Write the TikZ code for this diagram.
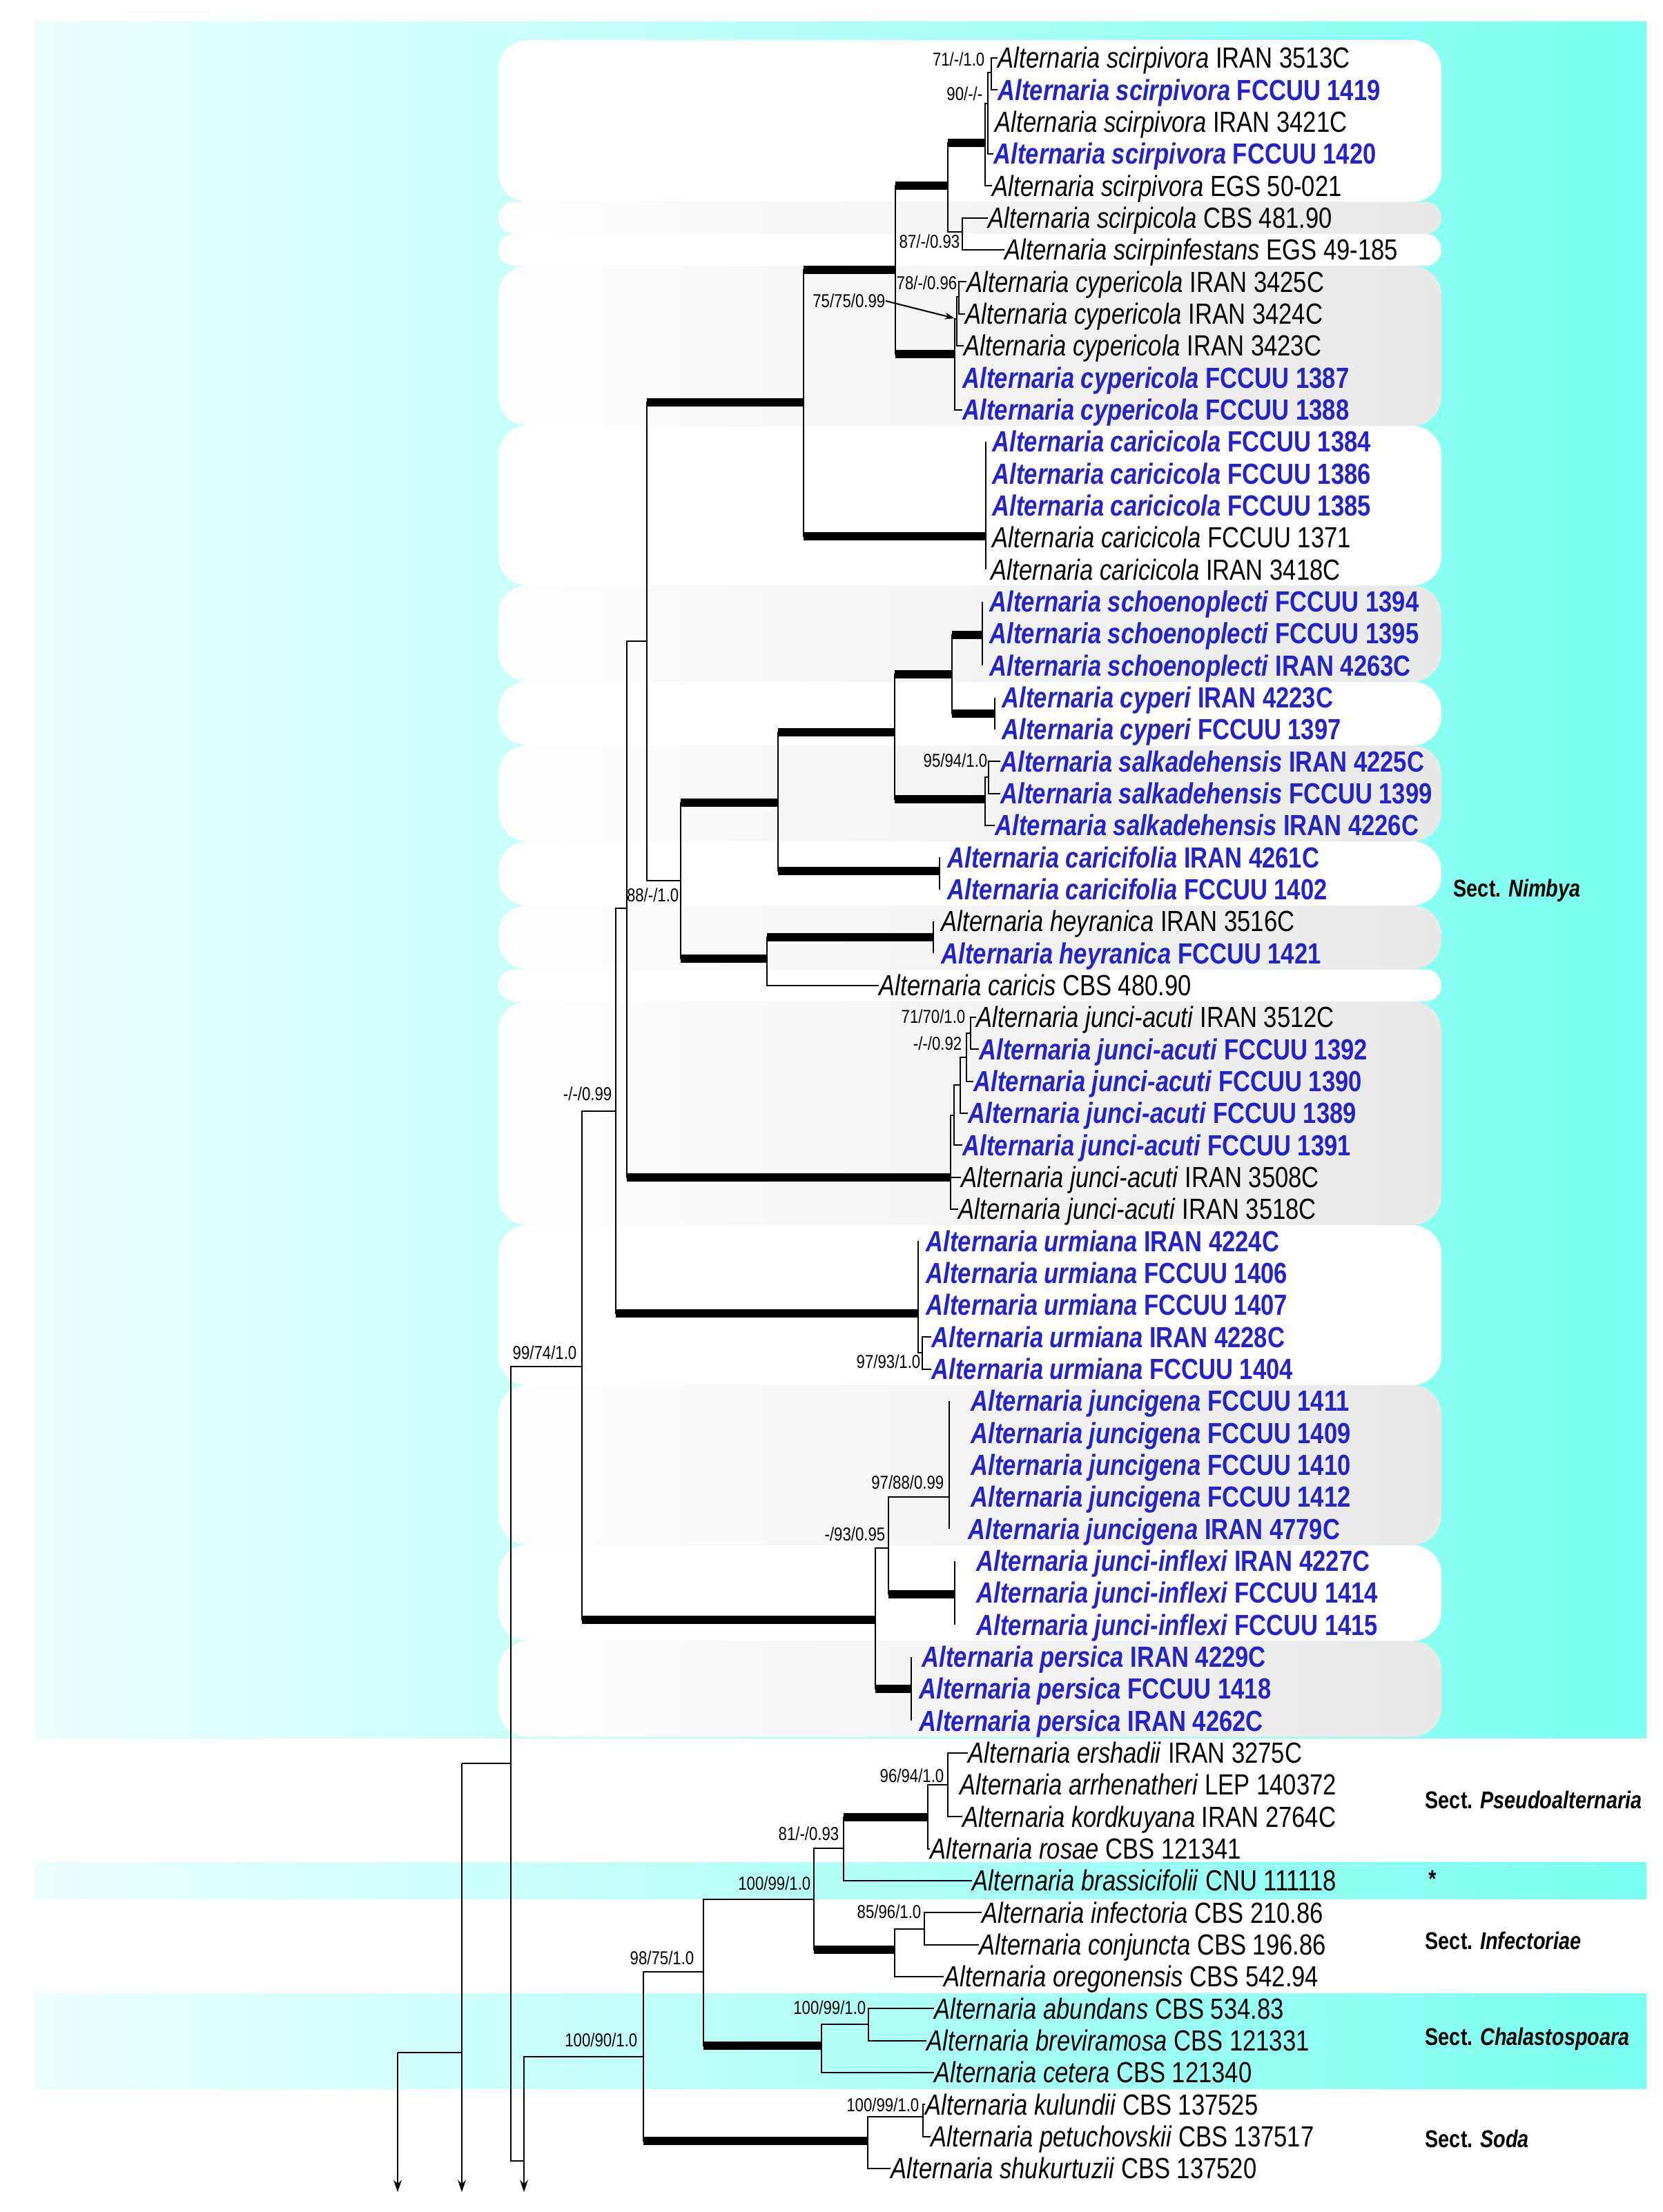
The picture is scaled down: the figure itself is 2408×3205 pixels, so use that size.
\documentclass[tikz,border=0pt]{standalone}
\usepackage{fontspec}
\setmainfont{Liberation Sans}[FakeStretch=0.82]
\usepackage{tikz}
\usetikzlibrary{arrows.meta}
\definecolor{altblue}{RGB}{35,35,200}
\definecolor{bgcyan}{RGB}{122,255,240}
\definecolor{bgpale}{RGB}{236,255,253}
\newcommand{\nm}[1]{\textit{Alternaria #1}}

\begin{document}
\begin{tikzpicture}[x=0.01cm,y=-0.01cm,
  tx/.style={anchor=west,inner sep=0pt,text height=9pt,text depth=0.5pt,font=\fontsize{12}{14}\selectfont},
  txb/.style={tx,text=altblue,font=\fontsize{12}{14}\selectfont\bfseries},
  sup/.style={anchor=east,inner sep=0pt,font=\fontsize{7.7}{9}\selectfont},
  sect/.style={anchor=west,inner sep=0pt,font=\fontsize{10}{12}\selectfont\bfseries},
  br/.style={line width=0.6pt},
  thk/.style={line width=3.2pt},
  arr/.style={-{Stealth[length=5pt,width=3.4pt]}}]
\useasboundingbox (0,0) rectangle (2408,3205);
% background bands
\shade[left color=bgpale,right color=bgcyan] (50,31) rectangle (2385,2518);
\shade[left color=bgpale,right color=bgcyan] (50,2698) rectangle (2385,2751);
\shade[left color=bgpale,right color=bgcyan] (50,2888) rectangle (2385,3026);
% clade boxes
\foreach \ya/\yb/\r in {58/292.5/12, 338.8/385.2/6.5, 617/848.5/12, 987.5/1080/12,
    1219/1312/12, 1404.5/1451/6.5, 1775/2007/12, 2238.5/2377.5/12}
  \fill[white,rounded corners=\r pt] (722,\ya) rectangle (2088,\yb);
\foreach \ya/\yb/\r in {292.5/338.8/6.5, 385.2/617/12, 848.5/987.5/12, 1080/1219/12,
    1312/1404.5/12, 1451/1775/12, 2007/2238.5/12, 2377.5/2516.5/12}
  \shade[left color=white,right color=gray!18,rounded corners=\r pt] (722,\ya) rectangle (2088,\yb);

% taxa
\node[tx]  (t1)  at (1445,84)     {\nm{scirpivora} IRAN 3513C};
\node[txb] (t2)  at (1445,130.3)  {\nm{scirpivora} FCCUU 1419};
\node[tx]  (t3)  at (1441,176.7)  {\nm{scirpivora} IRAN 3421C};
\node[txb] (t4)  at (1439,223)    {\nm{scirpivora} FCCUU 1420};
\node[tx]  (t5)  at (1437,269.3)  {\nm{scirpivora} EGS 50-021};
\node[tx]  (t6)  at (1431,315.7)  {\nm{scirpicola} CBS 481.90};
\node[tx]  (t7)  at (1455,362)    {\nm{scirpinfestans} EGS 49-185};
\node[tx]  (t8)  at (1400,408.3)  {\nm{cypericola} IRAN 3425C};
\node[tx]  (t9)  at (1398,454.6)  {\nm{cypericola} IRAN 3424C};
\node[tx]  (t10) at (1396,501)    {\nm{cypericola} IRAN 3423C};
\node[txb] (t11) at (1394,547.3)  {\nm{cypericola} FCCUU 1387};
\node[txb] (t12) at (1394,593.6)  {\nm{cypericola} FCCUU 1388};
\node[txb] (t13) at (1437,640)    {\nm{caricicola} FCCUU 1384};
\node[txb] (t14) at (1437,686.3)  {\nm{caricicola} FCCUU 1386};
\node[txb] (t15) at (1437,732.6)  {\nm{caricicola} FCCUU 1385};
\node[tx]  (t16) at (1437,779)    {\nm{caricicola} FCCUU 1371};
\node[tx]  (t17) at (1435,825.3)  {\nm{caricicola} IRAN 3418C};
\node[txb] (t18) at (1433,871.6)  {\nm{schoenoplecti} FCCUU 1394};
\node[txb] (t19) at (1433,918)    {\nm{schoenoplecti} FCCUU 1395};
\node[txb] (t20) at (1433,964.3)  {\nm{schoenoplecti} IRAN 4263C};
\node[txb] (t21) at (1451,1010.6) {\nm{cyperi} IRAN 4223C};
\node[txb] (t22) at (1451,1057)   {\nm{cyperi} FCCUU 1397};
\node[txb] (t23) at (1449,1103.3) {\nm{salkadehensis} IRAN 4225C};
\node[txb] (t24) at (1449,1149.6) {\nm{salkadehensis} FCCUU 1399};
\node[txb] (t25) at (1441,1196)   {\nm{salkadehensis} IRAN 4226C};
\node[txb] (t26) at (1372,1242.3) {\nm{caricifolia} IRAN 4261C};
\node[txb] (t27) at (1372,1288.6) {\nm{caricifolia} FCCUU 1402};
\node[tx]  (t28) at (1363,1335)   {\nm{heyranica} IRAN 3516C};
\node[txb] (t29) at (1363,1381.3) {\nm{heyranica} FCCUU 1421};
\node[tx]  (t30) at (1273,1427.6) {\nm{caricis} CBS 480.90};
\node[tx]  (t31) at (1414,1474)   {\nm{junci-acuti} IRAN 3512C};
\node[txb] (t32) at (1418,1520.3) {\nm{junci-acuti} FCCUU 1392};
\node[txb] (t33) at (1410,1566.6) {\nm{junci-acuti} FCCUU 1390};
\node[txb] (t34) at (1402,1613)   {\nm{junci-acuti} FCCUU 1389};
\node[txb] (t35) at (1394,1659.3) {\nm{junci-acuti} FCCUU 1391};
\node[tx]  (t36) at (1392,1705.6) {\nm{junci-acuti} IRAN 3508C};
\node[tx]  (t37) at (1388,1752)   {\nm{junci-acuti} IRAN 3518C};
\node[txb] (t38) at (1341,1798.3) {\nm{urmiana} IRAN 4224C};
\node[txb] (t39) at (1341,1844.6) {\nm{urmiana} FCCUU 1406};
\node[txb] (t40) at (1341,1891)   {\nm{urmiana} FCCUU 1407};
\node[txb] (t41) at (1349,1937.3) {\nm{urmiana} IRAN 4228C};
\node[txb] (t42) at (1349,1983.6) {\nm{urmiana} FCCUU 1404};
\node[txb] (t43) at (1406,2030)   {\nm{juncigena} FCCUU 1411};
\node[txb] (t44) at (1406,2076.3) {\nm{juncigena} FCCUU 1409};
\node[txb] (t45) at (1406,2122.6) {\nm{juncigena} FCCUU 1410};
\node[txb] (t46) at (1406,2169)   {\nm{juncigena} FCCUU 1412};
\node[txb] (t47) at (1402,2215.3) {\nm{juncigena} IRAN 4779C};
\node[txb] (t48) at (1414,2261.6) {\nm{junci-inflexi} IRAN 4227C};
\node[txb] (t49) at (1414,2308)   {\nm{junci-inflexi} FCCUU 1414};
\node[txb] (t50) at (1414,2354.3) {\nm{junci-inflexi} FCCUU 1415};
\node[txb] (t51) at (1335,2400.6) {\nm{persica} IRAN 4229C};
\node[txb] (t52) at (1331,2447)   {\nm{persica} FCCUU 1418};
\node[txb] (t53) at (1331,2493.3) {\nm{persica} IRAN 4262C};
\node[tx]  (t54) at (1402,2539.6) {\nm{ershadii} IRAN 3275C};
\node[tx]  (t55) at (1390,2586)   {\nm{arrhenatheri} LEP 140372};
\node[tx]  (t56) at (1394,2632.3) {\nm{kordkuyana} IRAN 2764C};
\node[tx]  (t57) at (1347,2678.6) {\nm{rosae} CBS 121341};
\node[tx]  (t58) at (1408,2725)   {\nm{brassicifolii} CNU 111118};
\node[tx]  (t59) at (1422,2771.3) {\nm{infectoria} CBS 210.86};
\node[tx]  (t60) at (1418,2817.6) {\nm{conjuncta} CBS 196.86};
\node[tx]  (t61) at (1367,2864)   {\nm{oregonensis} CBS 542.94};
\node[tx]  (t62) at (1353,2910.3) {\nm{abundans} CBS 534.83};
\node[tx]  (t63) at (1342,2956.6) {\nm{breviramosa} CBS 121331};
\node[tx]  (t64) at (1353,3003)   {\nm{cetera} CBS 121340};
\node[tx]  (t65) at (1340,3049.3) {\nm{kulundii} CBS 137525};
\node[tx]  (t66) at (1348,3095.6) {\nm{petuchovskii} CBS 137517};
\node[tx]  (t67) at (1290,3142)   {\nm{shukurtuzii} CBS 137520};

% internal nodes
\coordinate (o1) at (576,2974);   \coordinate (o2) at (669,2555);
\coordinate (a1) at (576,3176);   \coordinate (a2) at (669,3176);
\coordinate (a3) at (759,3176);
\coordinate (nA) at (740,2555);   \coordinate (nB) at (759,3131);
\coordinate (n99) at (843,1980);  \coordinate (nM) at (892,1610);
\coordinate (nN2) at (908,1316);  \coordinate (nN1) at (937,929);
\coordinate (n88) at (986,1276);  \coordinate (nK) at (1127,1163);
\coordinate (nS) at (1296,1061);  \coordinate (nSC) at (1379,977);
\coordinate (nSch) at (1423,920); \coordinate (nCy) at (1441,1034);
\coordinate (nSk) at (1427,1158); \coordinate (nSk2) at (1432,1126);
\coordinate (nCf) at (1361,1262); \coordinate (nH) at (1111,1389);
\coordinate (nHe) at (1352,1358); \coordinate (n7) at (1164,583);
\coordinate (n8) at (1297,391);   \coordinate (n9) at (1373,269);
\coordinate (n10) at (1394,336);  \coordinate (nSv) at (1427,207);
\coordinate (nb) at (1431,150);   \coordinate (na) at (1436,105);
\coordinate (nCp) at (1383,513);  \coordinate (nCe) at (1386,462);
\coordinate (nCd) at (1389,430);  \coordinate (nCc) at (1428,777);
\coordinate (nJA) at (1377,1706); \coordinate (nj) at (1382,1616);
\coordinate (ni) at (1391,1572);  \coordinate (nh) at (1400,1532);
\coordinate (ng) at (1406,1497);  \coordinate (nU) at (1330,1903);
\coordinate (nU2) at (1336,1960); \coordinate (nJ) at (1268,2347);
\coordinate (n93) at (1287,2243); \coordinate (nJg) at (1375,2169);
\coordinate (nJi) at (1383,2310); \coordinate (nP) at (1320,2447);
\coordinate (n100) at (932,2980); \coordinate (n98) at (1019,2857);
\coordinate (n1001) at (1179,2752); \coordinate (n81) at (1222,2678);
\coordinate (nPs) at (1344,2633); \coordinate (n96) at (1373,2586);
\coordinate (nIn) at (1296,2825); \coordinate (n85) at (1339,2795);
\coordinate (nCh) at (1190,2964); \coordinate (nCh2) at (1258,2933);
\coordinate (nSo) at (1257,3102); \coordinate (nSo2) at (1337,3067);

% root and outgroup arrows
\draw[br] (o2) -- (nA);
\draw[br,arr] (o2) -- (a2);
\draw[br] (o2 |- o1) -- (o1);
\draw[br,arr] (o1) -- (a1);
\draw[br] (nA) |- (n99);
\draw[br] (nA) |- (nB);
\draw[br] (nB) |- (n100);
\draw[br,arr] (nB) -- (a3);

% sect. Nimbya
\draw[br] (n99) |- (nM);  \draw[br] (n99) |- (nJ);  \draw[thk] (n99 |- nJ) -- (nJ);
\draw[br] (nM) |- (nN2);  \draw[br] (nM) |- (nU);   \draw[thk] (nM |- nU) -- (nU);
\draw[br] (nN2) |- (nN1); \draw[br] (nN2) |- (nJA); \draw[thk] (nN2 |- nJA) -- (nJA);
\draw[br] (nN1) |- (n7);  \draw[thk] (nN1 |- n7) -- (n7);
\draw[br] (nN1) |- (n88);
\draw[br] (n88) |- (nK);  \draw[thk] (n88 |- nK) -- (nK);
\draw[br] (n88) |- (nH);  \draw[thk] (n88 |- nH) -- (nH);
\draw[br] (nK) |- (nS);   \draw[thk] (nK |- nS) -- (nS);
\draw[br] (nK) |- (nCf);  \draw[thk] (nK |- nCf) -- (nCf);
\draw[br] (nS) |- (nSC);  \draw[thk] (nS |- nSC) -- (nSC);
\draw[br] (nS) |- (nSk);  \draw[thk] (nS |- nSk) -- (nSk);
\draw[br] (nSC) |- (nSch); \draw[thk] (nSC |- nSch) -- (nSch);
\draw[br] (nSC) |- (nCy);  \draw[thk] (nSC |- nCy) -- (nCy);
\draw[br] (nSch |- t18.west) -- (nSch |- t20.west);
\draw[br] (nCy |- t21.west) -- (nCy |- t22.west);
\draw[br] (nSk) |- (nSk2); \draw[br] (nSk) |- (t25.west);
\draw[br] (nSk2) |- (t23.west); \draw[br] (nSk2) |- (t24.west);
\draw[br] (nCf |- t26.west) -- (nCf |- t27.west);
\draw[br] (nH) |- (nHe);  \draw[thk] (nH |- nHe) -- (nHe);
\draw[br] (nH) |- (t30.west);
\draw[br] (nHe |- t28.west) -- (nHe |- t29.west);
\draw[br] (n7) |- (n8);   \draw[thk] (n7 |- n8) -- (n8);
\draw[br] (n7) |- (nCc);  \draw[thk] (n7 |- nCc) -- (nCc);
\draw[br] (n8) |- (n9);   \draw[thk] (n8 |- n9) -- (n9);
\draw[br] (n8) |- (nCp);  \draw[thk] (n8 |- nCp) -- (nCp);
\draw[br] (n9) |- (nSv);  \draw[thk] (n9 |- nSv) -- (nSv);
\draw[br] (n9) |- (n10);
\draw[br] (n10) |- (t6.west); \draw[br] (n10) |- (t7.west);
\draw[br] (nSv) |- (nb);  \draw[br] (nSv) |- (t5.west);
\draw[br] (nb) |- (na);   \draw[br] (nb) |- (t4.west);
\draw[br] (na) |- (t1.west); \draw[br] (na) |- (t2.west);
\draw[br] (nCp) |- (nCe); \draw[br] (nCp) |- (t12.west);
\draw[br] (nCe) |- (nCd); \draw[br] (nCe) |- (t10.west);
\draw[br] (nCd) |- (t8.west); \draw[br] (nCd) |- (t9.west);
\draw[br] (nCc |- t13.west) -- (nCc |- t17.west);
\draw[br] (nJA) |- (nj);  \draw[br] (nJA) |- (t36.west); \draw[br] (nJA) |- (t37.west);
\draw[br] (nj) |- (ni);   \draw[br] (nj) |- (t35.west);
\draw[br] (ni) |- (nh);   \draw[br] (ni) |- (t34.west);
\draw[br] (nh) |- (ng);   \draw[br] (nh) |- (t33.west);
\draw[br] (ng) |- (t31.west); \draw[br] (ng) |- (t32.west);
\draw[br] (nU |- t38.west) |- (nU2);
\draw[br] (nU2) |- (t41.west); \draw[br] (nU2) |- (t42.west);
\draw[br] (nJ) |- (n93);  \draw[br] (nJ) |- (nP);   \draw[thk] (nJ |- nP) -- (nP);
\draw[br] (n93) |- (nJg); \draw[br] (n93) |- (nJi); \draw[thk] (n93 |- nJi) -- (nJi);
\draw[br] (nJg |- t43.west) -- (nJg |- t47.west);
\draw[br] (nJi |- t48.west) -- (nJi |- t50.west);
\draw[br] (nP |- t51.west) -- (nP |- t53.west);

% other sections
\draw[br] (n100) |- (n98);  \draw[br] (n100) |- (nSo); \draw[thk] (n100 |- nSo) -- (nSo);
\draw[br] (n98) |- (n1001); \draw[br] (n98) |- (nCh);  \draw[thk] (n98 |- nCh) -- (nCh);
\draw[br] (n1001) |- (n81); \draw[br] (n1001) |- (nIn); \draw[thk] (n1001 |- nIn) -- (nIn);
\draw[br] (n81) |- (nPs);   \draw[thk] (n81 |- nPs) -- (nPs);
\draw[br] (n81) |- (t58.west);
\draw[br] (nPs) |- (n96);   \draw[br] (nPs) |- (t57.west);
\draw[br] (n96) |- (t54.west); \draw[br] (n96) |- (t56.west);
\draw[br] (nIn) |- (n85);   \draw[br] (nIn) |- (t61.west);
\draw[br] (n85) |- (t59.west); \draw[br] (n85) |- (t60.west);
\draw[br] (nCh) |- (nCh2);  \draw[br] (nCh) |- (t64.west);
\draw[br] (nCh2) |- (t62.west); \draw[br] (nCh2) |- (t63.west);
\draw[br] (nSo) |- (nSo2);  \draw[br] (nSo) |- (t67.west);
\draw[br] (nSo2) |- (t65.west); \draw[br] (nSo2) |- (t66.west);

% support values
\node[sup] (s7110)  at (1427,86)   {71/-/1.0};
\node[sup] (s90)    at (1424,136)  {90/-/-};
\node[sup] (s87)    at (1391,350)  {87/-/0.93};
\node[sup] (s78)    at (1387,410)  {78/-/0.96};
\node[sup] (s75)    at (1283,436)  {75/75/0.99};
\draw[br,-{Stealth[length=4pt,width=2.8pt]},shorten >=1pt] (s75.east) -- (nCe);
\node[sup] (s95)    at (1431,1102) {95/94/1.0};
\node[sup] (s88)    at (984,1297)  {88/-/1.0};
\node[sup] (s7170)  at (1399,1473) {71/70/1.0};
\node[sup] (s092)   at (1394,1512) {-/-/0.92};
\node[sup] (s099)   at (887,1585)  {-/-/0.99};
\node[sup] (s9793)  at (1334,1973) {97/93/1.0};
\node[sup] (s9974)  at (836,1960)  {99/74/1.0};
\node[sup] (s9788)  at (1368,2148) {97/88/0.99};
\node[sup] (s9395)  at (1283,2223) {-/93/0.95};
\node[sup] (s9694)  at (1368,2573) {96/94/1.0};
\node[sup] (s81)    at (1216,2657) {81/-/0.93};
\node[sup] (s1009a) at (1175,2729) {100/99/1.0};
\node[sup] (s8596)  at (1335,2770) {85/96/1.0};
\node[sup] (s9875)  at (1006,2837) {98/75/1.0};
\node[sup] (s1009b) at (1255,2909) {100/99/1.0};
\node[sup] (s10090) at (924,2956)  {100/90/1.0};
\node[sup] (s1009c) at (1332,3050) {100/99/1.0};

% sections
\node[sect] (secN) at (2105,1290) {Sect. \textit{Nimbya}};
\node[sect] (secP) at (2064,2608) {Sect. \textit{Pseudoalternaria}};
\node[sect] (secB) at (2068,2722) {\textit{*}};
\node[sect] (secI) at (2064,2812) {Sect. \textit{Infectoriae}};
\node[sect] (secC) at (2064,2954) {Sect. \textit{Chalastospoara}};
\node[sect] (secS) at (2064,3099) {Sect. \textit{Soda}};
\end{tikzpicture}
\end{document}
